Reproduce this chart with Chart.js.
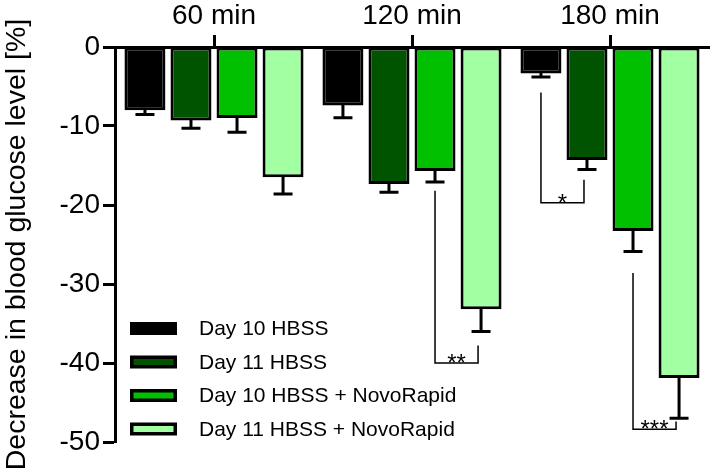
<!DOCTYPE html>
<html>
<head>
<meta charset="utf-8">
<script src="https://cdn.jsdelivr.net/npm/chart.js@4"></script>
<style>
  body { margin: 0; background: #fff; }
</style>
</head>
<body>
<canvas id="grafico" width="714" height="476"></canvas>
<script>
// DATOS
const groups = ['60 min', '120 min', '180 min'];
const seriesNames = ['Day 10 HBSS', 'Day 11 HBSS', 'Day 10 HBSS + NovoRapid', 'Day 11 HBSS + NovoRapid'];
const day10Hbss = [-8.0, -7.4, -3.35];
const day11Hbss = [-9.3, -17.35, -14.3];
const day10Novo = [-9.0, -15.7, -23.3];
const day11Novo = [-16.5, -33.2, -41.9];
const day10HbssErr = [0.55, 1.55, 0.45];
const day11HbssErr = [1.0, 1.05, 1.2];
const day10NovoErr = [1.8, 1.4, 2.6];
const day11NovoErr = [2.1, 2.8, 5.1];
const yMin = -50, yMax = 0, yStep = 10;
const yTitle = 'Decrease in blood glucose level [%]';

// corchetes de significancia: grupo, barra izq/der, extremos en valores
const brackets = [
  { group: 1, from: 2, to: 3, topFrom: -18.2, topTo: -37.8, bottom: -40.0, label: '**' },
  { group: 2, from: 0, to: 1, topFrom: -5.75, topTo: -16.8, bottom: -19.7, label: '*' },
  { group: 2, from: 2, to: 3, topFrom: -28.6, topTo: -47.4, bottom: -48.4, label: '***' }
];

const colores = ['#000000', '#005400', '#00c000', '#a2ffa2'];
const valores = [day10Hbss, day11Hbss, day10Novo, day11Novo];
const errores = [day10HbssErr, day11HbssErr, day10NovoErr, day11NovoErr];
const fuente = '"Liberation Sans", Arial, sans-serif';

// barras de error hacia abajo
const errorBars = {
  id: 'errorBars',
  afterDatasetsDraw(chart) {
    const ctx = chart.ctx;
    const y = chart.scales.y;
    ctx.save();
    ctx.strokeStyle = '#000';
    ctx.lineWidth = 3;
    chart.data.datasets.forEach((ds, i) => {
      chart.getDatasetMeta(i).data.forEach((bar, j) => {
        const fin = y.getPixelForValue(ds.data[j] - errores[i][j]);
        ctx.beginPath();
        ctx.moveTo(bar.x, bar.y - 2);
        ctx.lineTo(bar.x, fin);
        ctx.moveTo(bar.x - 9.5, fin);
        ctx.lineTo(bar.x + 9.5, fin);
        ctx.stroke();
      });
    });
    ctx.restore();
  }
};

// corchetes con asteriscos
const significancia = {
  id: 'significancia',
  afterDatasetsDraw(chart) {
    const ctx = chart.ctx;
    const y = chart.scales.y;
    ctx.save();
    ctx.strokeStyle = '#000';
    ctx.lineWidth = 1.5;
    brackets.forEach(b => {
      const x1 = chart.getDatasetMeta(b.from).data[b.group].x;
      const x2 = chart.getDatasetMeta(b.to).data[b.group].x - 3;
      const yb = y.getPixelForValue(b.bottom);
      ctx.beginPath();
      ctx.moveTo(x1, y.getPixelForValue(b.topFrom));
      ctx.lineTo(x1, yb);
      ctx.lineTo(x2, yb);
      ctx.lineTo(x2, y.getPixelForValue(b.topTo));
      ctx.stroke();
      ctx.fillStyle = '#000';
      ctx.font = '24px ' + fuente;
      ctx.textAlign = 'center';
      ctx.textBaseline = 'alphabetic';
      ctx.fillText(b.label, (x1 + x2) / 2, yb + 8);
    });
    ctx.restore();
  }
};

// leyenda dentro del area
const leyenda = {
  id: 'leyenda',
  afterDraw(chart) {
    const ctx = chart.ctx;
    ctx.save();
    seriesNames.forEach((nombre, i) => {
      const cy = 328.5 + i * 33.5;
      ctx.fillStyle = '#000';
      ctx.fillRect(130, cy - 6.5, 47, 13);
      if (i > 0) {
        ctx.fillStyle = colores[i];
        ctx.fillRect(133.5, cy - 3, 40, 6);
      }
      ctx.fillStyle = '#000';
      ctx.font = '21px ' + fuente;
      ctx.textAlign = 'left';
      ctx.textBaseline = 'middle';
      ctx.fillText(nombre, 199, cy + 1);
    });
    ctx.restore();
  }
};

const grafico = new Chart(document.getElementById('grafico'), {
  type: 'bar',
  data: {
    labels: groups,
    datasets: seriesNames.map((n, i) => ({
      label: n,
      data: valores[i],
      backgroundColor: colores[i],
      borderColor: '#000',
      borderWidth: 3,
      borderSkipped: false,
      categoryPercentage: 0.93,
      barPercentage: 0.89
    }))
  },
  options: {
    responsive: false,
    animation: false,
    layout: { padding: { top: 0, right: 5, bottom: 34, left: 0 } },
    plugins: {
      legend: { display: false },
      tooltip: { enabled: false }
    },
    scales: {
      x: {
        position: 'top',
        z: 1,
        offset: true,
        afterFit: s => { s.height = 47; },
        grid: { display: true, drawOnChartArea: false, offset: false, tickLength: 12, tickWidth: 3, color: '#000' },
        border: { display: true, color: '#000', width: 3 },
        ticks: { color: '#000', font: { family: fuente, size: 28 }, padding: 2 }
      },
      y: {
        min: yMin,
        max: yMax,
        z: 1,
        afterFit: s => { s.width = 115; },
        grid: { display: true, drawOnChartArea: false, tickLength: 12, tickWidth: 3, color: '#000' },
        border: { display: true, color: '#000', width: 3 },
        ticks: { stepSize: yStep, color: '#000', font: { family: fuente, size: 28 }, padding: 3 },
        title: {
          display: true,
          text: yTitle,
          color: '#000',
          font: { family: fuente, size: 28.5 },
          padding: { top: 0, bottom: 0 }
        }
      }
    }
  },
  plugins: [errorBars, significancia, leyenda]
});
</script>
</body>
</html>
